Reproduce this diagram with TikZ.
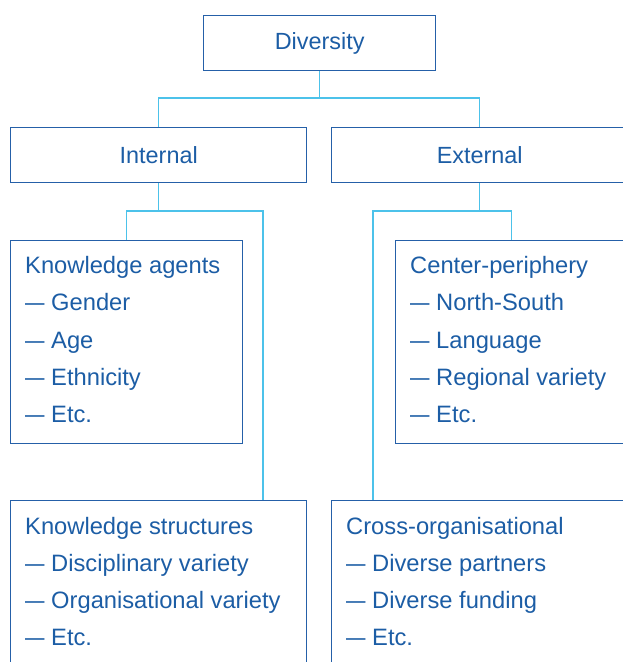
\documentclass[tikz,border=0pt]{standalone}
\usepackage{fontspec}
\setmainfont{Liberation Sans}
\usetikzlibrary{positioning}
\definecolor{boxblue}{HTML}{2560A8}
\definecolor{txtblue}{HTML}{1C5DA5}
\definecolor{linkcyan}{HTML}{4CC2EA}
\newcommand{\itemdash}{\scalebox{0.82}[1]{\textemdash}}

\begin{document}
\begin{tikzpicture}[x=1bp,y=-1bp,
    box/.style={draw=boxblue,line width=1.4bp,inner sep=0pt,anchor=north west},
    headbox/.style={box,minimum height=55bp,text=txtblue,font=\fontsize{23.5}{28}\selectfont},
    listbox/.style={box,minimum width=232bp,minimum height=203bp},
    listtext/.style={inner sep=0pt,align=left,text=txtblue,font=\fontsize{23.8}{37.3}\selectfont},
    link/.style={draw=linkcyan,line width=1.4bp}]
  \clip (0,0) rectangle (623,662);
  % headings
  \node[headbox,minimum width=232bp] (div) at (203,15) {Diversity};
  \node[headbox,minimum width=296bp] (int) at (10,127) {Internal};
  \node[headbox,minimum width=296bp] (ext) at (331,127) {External};
  % lists
  \node[listbox] (agents) at (10,240) {};
  \node[listbox] (center) at (395,240) {};
  \node[listbox,minimum width=296bp] (struct) at (10,500) {};
  \node[listbox,minimum width=296bp] (cross) at (331,500) {};
  \node[listtext,below right=7.6bp and 15bp of agents.north west] (agentstxt)
    {\strut Knowledge agents\\\itemdash{} Gender\\\itemdash{} Age\\\itemdash{} Ethnicity\\\itemdash{} Etc.};
  \node[listtext,below right=7.6bp and 15bp of center.north west] (centertxt)
    {\strut Center-periphery\\\itemdash{} North-South\\\itemdash{} Language\\\itemdash{} Regional variety\\\itemdash{} Etc.};
  \node[listtext,below right=7.8bp and 15bp of struct.north west] (structtxt)
    {\strut Knowledge structures\\\itemdash{} Disciplinary variety\\\itemdash{} Organisational variety\\\itemdash{} Etc.};
  \node[listtext,below right=7.8bp and 15bp of cross.north west] (crosstxt)
    {\strut Cross-organisational\\\itemdash{} Diverse partners\\\itemdash{} Diverse funding\\\itemdash{} Etc.};
  % connectors
  \coordinate (divj) at (319,98);
  \coordinate (intj) at (263,211);
  \coordinate (extj) at (373,211);
  \draw[link] (div.south) -- (div.south |- divj);
  \draw[link] (int.north) |- (divj) -| (ext.north);
  \draw[link] (int.south) -- (int.south |- intj);
  \draw[link] (agents.north) |- (intj) -- (intj |- struct.north);
  \draw[link] (ext.south) -- (ext.south |- extj);
  \draw[link] (center.north) |- (extj) -- (extj |- cross.north);
\end{tikzpicture}
\end{document}
